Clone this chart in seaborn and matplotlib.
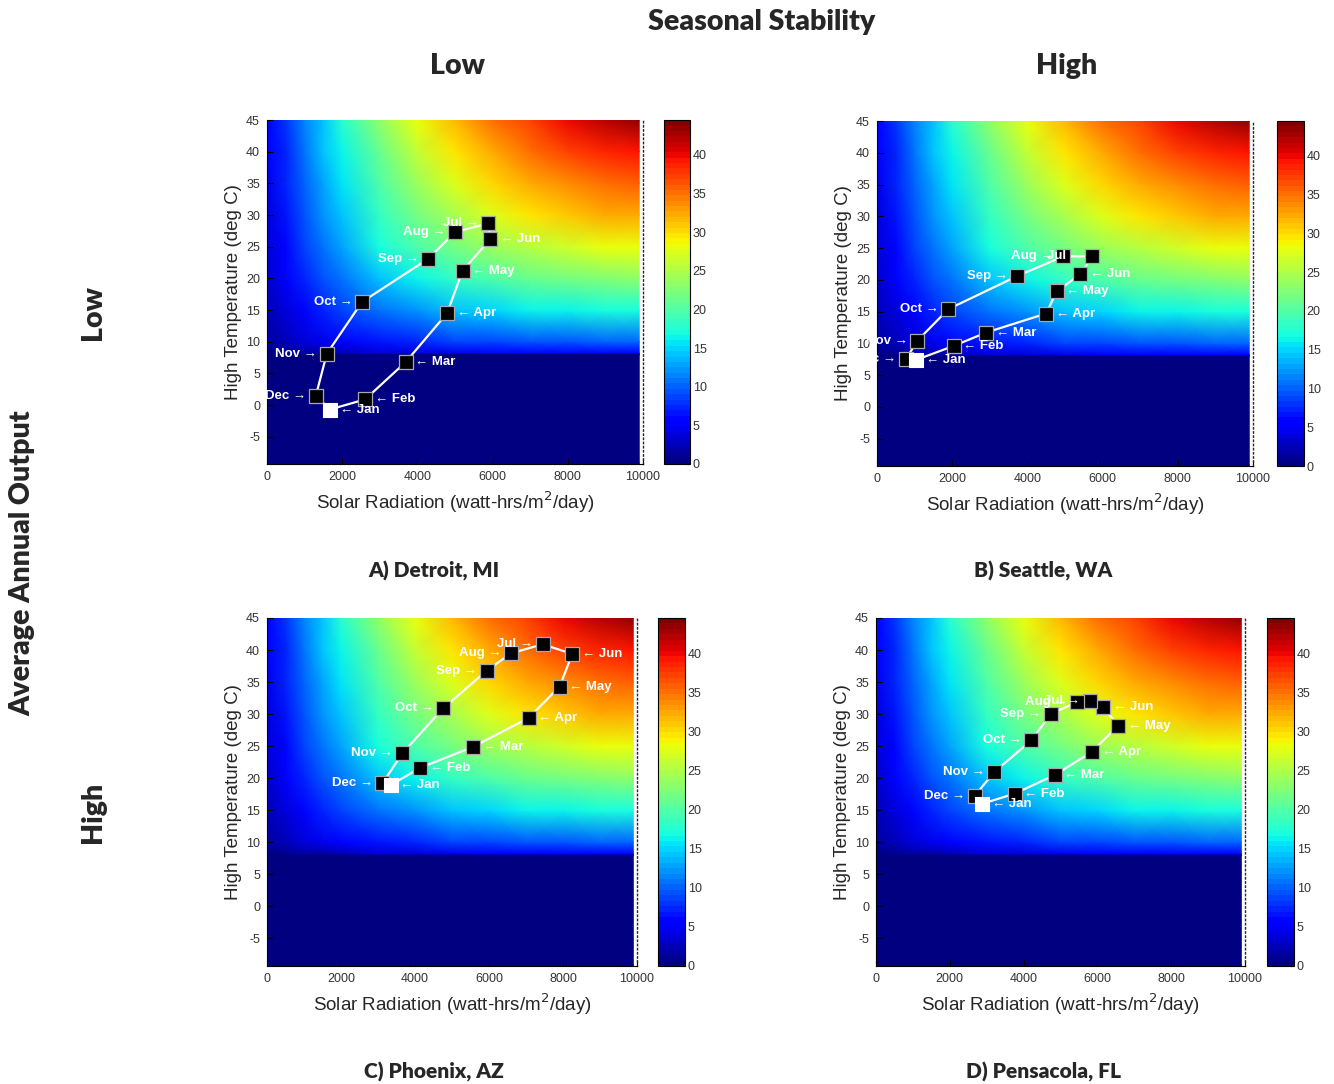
import numpy as np
import pandas as pd
import matplotlib
matplotlib.use("Agg")
import matplotlib.pyplot as plt
import seaborn as sns

# ---------------- data ----------------
months = ["Jan", "Feb", "Mar", "Apr", "May", "Jun", "Jul", "Aug", "Sep", "Oct", "Nov", "Dec"]

detroit_rad = [1670, 2610, 3690, 4790, 5200, 5940, 5890, 5000, 4290, 2530, 1590, 1300]
detroit_temp = [-0.7, 0.9, 6.8, 14.5, 21.2, 26.2, 28.7, 27.3, 23.1, 16.3, 8.1, 1.5]

seattle_rad = [1040, 2040, 2900, 4500, 4780, 5410, 5730, 4960, 3730, 1900, 1070, 780]
seattle_temp = [7.4, 9.6, 11.7, 14.7, 18.2, 20.9, 23.7, 23.7, 20.6, 15.4, 10.4, 7.6]

phoenix_rad = [3340, 4130, 5570, 7070, 7910, 8250, 7450, 6600, 5940, 4760, 3660, 3120]
phoenix_temp = [18.9, 21.6, 24.9, 29.4, 34.3, 39.4, 40.9, 39.5, 36.8, 30.9, 23.9, 19.2]

pensacola_rad = [2870, 3760, 4840, 5850, 6560, 6150, 5790, 5450, 4730, 4210, 3210, 2680]
pensacola_temp = [16.0, 17.6, 20.5, 24.1, 28.2, 31.1, 32.0, 31.9, 30.0, 25.9, 21.0, 17.3]

panel_titles = ["A) Detroit, MI", "B) Seattle, WA", "C) Phoenix, AZ", "D) Pensacola, FL"]

# background output field (rows: temperature, cols: radiation)
bg_radiation = [0, 500, 1000, 1500, 2000, 3000, 4000, 5000, 6000, 7000, 8000, 9000, 9900]
bg_temperature = [-9.3, 8.1, 8.2, 10, 15, 20, 25, 30, 35, 40, 45]
bg_values = [
    [0, 0, 0, 0, 0, 0, 0, 0, 0, 0, 0, 0, 0],
    [0, 0, 0, 0, 0, 0, 0, 0, 0, 0, 0, 0, 0],
    [0.5, 1, 1.5, 2, 2.5, 3.5, 4, 4.5, 5, 5, 5, 5, 5],
    [1.5, 2.5, 3.5, 4.5, 5.5, 6.5, 7.5, 8.5, 9, 9.5, 9.5, 10, 10],
    [2.5, 4, 6, 7.5, 9, 11, 12.5, 14, 15, 16, 16.5, 17, 17],
    [3, 5, 7.5, 9.5, 11, 14, 16.5, 18.5, 20, 21, 22, 22.5, 23],
    [3.5, 6, 8.5, 11, 13, 17, 20, 22, 24, 25.5, 27, 28, 28.5],
    [4, 6.5, 9.5, 12, 14.5, 18.5, 22, 25, 27.5, 29.5, 31, 32, 32.5],
    [4.5, 7, 10, 13, 15.5, 20, 24, 27.5, 30, 32, 34, 35, 36],
    [5, 7.5, 11, 14, 16.5, 21.5, 26, 29.5, 32.5, 35, 37, 38.5, 39.5],
    [5.5, 8, 11.5, 14.5, 17.5, 23, 28, 31.5, 35, 37.5, 40, 42, 43.5],
]
cbar_ticks = [0, 5, 10, 15, 20, 25, 30, 35, 40]
x_ticks = [0, 2000, 4000, 6000, 8000, 10000]
y_ticks = [-5, 0, 5, 10, 15, 20, 25, 30, 35, 40, 45]

# ---------------- style ----------------
sns.set_style("white")
plt.rcParams["font.family"] = ["Liberation Sans", "DejaVu Sans"]

W, H = 1334, 1084
fig = plt.figure(figsize=(W / 100, H / 100), dpi=100)

def frac(l, t, r, b):
    return [l / W, 1 - b / H, (r - l) / W, (b - t) / H]

axes_px = [(267, 120, 643, 464), (877, 121, 1253, 466), (267, 618, 637, 966), (876, 618, 1245, 966)]
cbar_px = [(664, 120, 690, 464), (1277, 121, 1304, 466), (658, 618, 685, 966), (1267, 618, 1294, 966)]
title_pos = [(434, 571), (1043, 571), (434, 1072), (1043, 1072)]

series = [(detroit_rad, detroit_temp), (seattle_rad, seattle_temp),
          (phoenix_rad, phoenix_temp), (pensacola_rad, pensacola_temp)]

cmap = matplotlib.colormaps["jet"].resampled(64)
left_side = {"Jul", "Aug", "Sep", "Oct", "Nov", "Dec"}

for i, (rad, temp) in enumerate(series):
    ax = fig.add_axes(frac(*axes_px[i]))
    mesh = ax.pcolormesh(bg_radiation, bg_temperature, np.array(bg_values),
                         shading="gouraud", cmap=cmap, vmin=0, vmax=44.5, zorder=0)

    df = pd.DataFrame({"month": months, "rad": rad, "temp": temp})
    loop = pd.concat([df, df.iloc[[0]]], ignore_index=True)
    sns.lineplot(data=loop, x="rad", y="temp", sort=False, estimator=None,
                 color="white", lw=1.6, ax=ax, zorder=2)
    others = df[df["month"] != "Jan"]
    sns.scatterplot(data=others, x="rad", y="temp", marker="s", s=90,
                    color="black", edgecolor="#a8a8a8", linewidth=0.9, ax=ax, zorder=3)
    sns.scatterplot(data=df[df["month"] == "Jan"], x="rad", y="temp", marker="s", s=95,
                    color="white", edgecolor="white", linewidth=0.8, ax=ax, zorder=3)

    for m, x, y in zip(months, rad, temp):
        if m in left_side:
            t = ax.annotate(f"{m} \u2192", (x, y), xytext=(-7, 0), textcoords="offset points",
                            ha="right", va="center", color="white", fontsize=9.5,
                            fontweight="bold", zorder=4)
        else:
            t = ax.annotate(f"\u2190 {m}", (x, y), xytext=(7, 0), textcoords="offset points",
                            ha="left", va="center", color="white", fontsize=9.5,
                            fontweight="bold", zorder=4)
        t.set_clip_on(True)

    ax.set_xlim(0, 10000)
    ax.set_ylim(-9.3, 45)
    ax.set_xticks(x_ticks)
    ax.set_yticks(y_ticks)
    ax.set_xticklabels([str(t) for t in x_ticks])
    ax.set_yticklabels([str(t) for t in y_ticks])
    ax.tick_params(direction="in", length=4, labelsize=9, labelcolor="#333333",
                   bottom=True, left=True, color="black", pad=5)
    ax.set_xlabel("Solar Radiation (watt-hrs/m$^2$/day)", fontsize=13.5, labelpad=5)
    ax.set_ylabel("High Temperature (deg C)", fontsize=13.5, labelpad=3)
    ax.spines["top"].set_visible(False)
    ax.spines["right"].set_linestyle((0, (1, 2)))
    ax.spines["right"].set_linewidth(1.0)
    ax.spines["left"].set_color("black")
    ax.spines["bottom"].set_color("black")
    ax.spines["left"].set_linewidth(0.8)
    ax.spines["bottom"].set_linewidth(0.8)
    ax.grid(False)

    cax = fig.add_axes(frac(*cbar_px[i]))
    cb = fig.colorbar(mesh, cax=cax, ticks=cbar_ticks)
    cb.outline.set_edgecolor("black")
    cb.outline.set_linewidth(0.8)
    cax.tick_params(direction="in", length=3, labelsize=9, labelcolor="#333333", pad=2)

    tx, ty = title_pos[i]
    fig.text(tx / W, 1 - ty / H, panel_titles[i], ha="center", va="center",
             fontsize=15, fontweight="heavy", family=["Lato", "DejaVu Sans"])

hdr = dict(fontweight="heavy", family=["Lato", "DejaVu Sans"], ha="center", va="center")
fig.text(762 / W, 1 - 22 / H, "Seasonal Stability", fontsize=20.5, **hdr)
fig.text(458 / W, 1 - 66 / H, "Low", fontsize=20.5, **hdr)
fig.text(1067 / W, 1 - 66 / H, "High", fontsize=20.5, **hdr)
fig.text(22 / W, 1 - 563 / H, "Average Annual Output", fontsize=20.5, rotation=90, **hdr)
fig.text(93 / W, 1 - 313 / H, "Low", fontsize=20.5, rotation=90, **hdr)
fig.text(93 / W, 1 - 812 / H, "High", fontsize=20.5, rotation=90, **hdr)

fig.savefig("out.png", dpi=100, facecolor="white")
